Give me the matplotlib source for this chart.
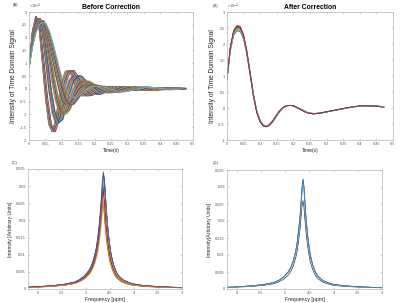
import numpy as np
import matplotlib
matplotlib.use("Agg")
import matplotlib.pyplot as plt

plt.rcParams['font.family'] = ['Liberation Sans', 'DejaVu Sans']

matlab_colors = ['#0072BD', '#D95319', '#EDB120', '#7E2F8E', '#77AC30', '#4DBEEE', '#A2142F']

# ---------------- time-domain data (x 1e-4) ----------------
time_s = [0.00, 0.01, 0.02, 0.03, 0.04, 0.05, 0.06, 0.07, 0.08, 0.09, 0.10,
          0.11, 0.12, 0.13, 0.14, 0.15, 0.16, 0.17, 0.18, 0.19, 0.20,
          0.22, 0.24, 0.26, 0.28, 0.30, 0.32, 0.34, 0.36, 0.38, 0.40,
          0.42, 0.44, 0.46, 0.47]

# "Before correction" representative curves (fast -> slow)
fid_before_1 = [0.90, 2.25, 2.82, 2.40, 1.05, -0.40, -1.40, -1.68, -1.25, -0.45, 0.30,
                0.68, 0.72, 0.50, 0.15, -0.15, -0.28, -0.25, -0.10, 0.04, 0.11,
                0.04, -0.09, -0.08, 0.02, 0.06, 0.01, -0.04, -0.03, 0.01, 0.03,
                0.01, -0.01, 0.00, 0.01]
fid_before_2 = [0.88, 2.05, 2.68, 2.75, 2.15, 1.05, -0.10, -0.95, -1.33, -1.20, -0.70,
                -0.10, 0.32, 0.50, 0.50, 0.35, 0.12, -0.08, -0.20, -0.22, -0.16,
                0.02, 0.10, 0.03, -0.06, -0.07, -0.01, 0.04, 0.04, 0.00, -0.02,
                -0.01, 0.01, 0.01, 0.01]
fid_before_3 = [0.85, 1.90, 2.50, 2.72, 2.55, 1.95, 1.10, 0.25, -0.45, -0.88, -0.98,
                -0.80, -0.45, -0.08, 0.18, 0.29, 0.30, 0.23, 0.10, -0.03, -0.12,
                -0.16, -0.06, 0.06, 0.09, 0.04, -0.03, -0.06, -0.03, 0.02, 0.04,
                0.03, 0.00, -0.01, 0.00]
fid_before_4 = [0.82, 1.75, 2.35, 2.62, 2.65, 2.35, 1.85, 1.20, 0.55, -0.02, -0.45,
                -0.63, -0.60, -0.42, -0.20, 0.00, 0.12, 0.16, 0.15, 0.12, 0.06,
                -0.07, -0.13, -0.10, -0.02, 0.05, 0.07, 0.04, -0.01, -0.04, -0.02,
                0.01, 0.02, 0.01, 0.01]
fid_before_5 = [0.78, 1.60, 2.18, 2.50, 2.60, 2.55, 2.25, 1.80, 1.28, 0.75, 0.28,
                -0.08, -0.28, -0.35, -0.32, -0.22, -0.10, 0.00, 0.07, 0.10, 0.10,
                0.07, -0.02, -0.10, -0.12, -0.07, 0.00, 0.05, 0.06, 0.03, -0.01,
                -0.02, -0.01, 0.01, 0.02]
before_curves = [fid_before_1, fid_before_2, fid_before_3, fid_before_4, fid_before_5]
# time stretch of each drawn line around its representative curve
stretch_steps = [1.00, 1.015, 1.03, 1.045, 1.06, 1.075, 1.09, 1.105, 1.12, 1.135, 1.15]
before_stretch = [stretch_steps, stretch_steps, stretch_steps, stretch_steps,
                  [1.00, 1.015, 1.03, 1.045]]

# "After correction" curve
fid_after = [0.90, 1.85, 2.35, 2.50, 2.47, 2.22, 1.72, 1.05, 0.38, -0.13, -0.42,
             -0.55, -0.57, -0.51, -0.38, -0.22, -0.08, 0.02, 0.07, 0.08, 0.07,
             -0.03, -0.14, -0.18, -0.16, -0.12, -0.08, -0.04, 0.00, 0.035, 0.06,
             0.07, 0.065, 0.05, 0.03]
after_gain = [0.965, 0.975, 0.985, 0.995, 1.0, 1.005, 1.015, 1.025, 1.035, 0.99, 1.01, 1.0, 0.98, 1.02]
after_stretch = [1.01, 0.995, 1.005, 0.99, 1.0, 1.008, 0.998, 1.004, 0.996, 1.0, 1.002, 1.0, 1.006, 0.994]

# ---------------- spectra ----------------
ppm_offset = [1.60, 1.40, 1.20, 1.00, 0.80, 0.60, 0.50, 0.40, 0.30, 0.25, 0.20, 0.15, 0.12,
              0.09, 0.06, 0.04, 0.02, 0.00, -0.02, -0.04, -0.06, -0.09, -0.12, -0.15,
              -0.20, -0.25, -0.30, -0.40, -0.50, -0.60, -0.80, -1.00, -1.20, -1.40, -1.65]
peak_profile = [0.015, 0.020, 0.025, 0.032, 0.042, 0.060, 0.080, 0.110, 0.160, 0.200, 0.260,
                0.350, 0.430, 0.540, 0.680, 0.800, 0.930, 1.000, 0.930, 0.790, 0.660, 0.510,
                0.400, 0.310, 0.220, 0.160, 0.120, 0.080, 0.060, 0.045, 0.032, 0.025,
                0.020, 0.016, 0.013]
peak_center_ppm = 4.63
before_shift = [-0.018, 0.015, -0.010, 0.006, 0.018, -0.015, 0.000, 0.011, -0.005,
                0.013, -0.012, 0.003, -0.007, 0.009, -0.002, 0.016, -0.016, 0.005]
before_height = [0.0300, 0.0280, 0.0320, 0.0290, 0.0260, 0.0310, 0.0335, 0.0295, 0.0325,
                 0.0270, 0.0305, 0.0330, 0.0315, 0.0285, 0.0338, 0.0250, 0.0275, 0.0342]
after_shift = [0.003, -0.003, 0.002, -0.002, 0.000, 0.002, -0.002, 0.001, -0.001, 0.000]
after_height = [0.0310, 0.0315, 0.0260, 0.0318, 0.0312, 0.0320, 0.0316, 0.0322, 0.0319, 0.0324]


def style(ax):
    for sp in ax.spines.values():
        sp.set_color('#B4B4B4')
        sp.set_linewidth(0.5)
    ax.tick_params(direction='in', length=1.6, width=0.4, color='#B4B4B4',
                   labelcolor='#555555', labelsize=2.8, pad=1.5,
                   top=True, right=True)


fig = plt.figure(figsize=(4.0, 3.03), dpi=100)

def add_axes(l, t, r, b):
    W, H = 400.0, 303.0
    return fig.add_axes([l / W, 1 - b / H, (r - l) / W, (b - t) / H])

axA = add_axes(29, 12, 193, 140)
axB = add_axes(227, 12, 393, 140)
axC = add_axes(28, 169, 182, 289)
axD = add_axes(227, 170, 382, 289)

t = np.array(time_s)
k = 0
for curve, stretches in zip(before_curves, before_stretch):
    y = np.array(curve)
    for s in stretches:
        x = t * s
        m = x <= 0.48
        axA.plot(x[m], y[m], color=matlab_colors[k % 7], lw=0.55)
        k += 1

ya = np.array(fid_after)
for i, (g, s) in enumerate(zip(after_gain, after_stretch)):
    axB.plot(t * s, ya * g, color=matlab_colors[i % 7], lw=0.55)

off = np.array(ppm_offset)
prof = np.array(peak_profile)
for i, (sh, h) in enumerate(zip(before_shift, before_height)):
    axC.plot(peak_center_ppm + sh + off, prof * h, color=matlab_colors[i % 7], lw=0.45)
for i, (sh, h) in enumerate(zip(after_shift, after_height)):
    col = '#7FB2D4'
    if i == len(after_shift) - 1:
        col = '#2F5F8F'
    if i == 2:
        col = '#222222'
    axD.plot(peak_center_ppm + sh + off, prof * h, color=col, lw=0.45)

time_ticks = [0, 0.05, 0.1, 0.15, 0.2, 0.25, 0.3, 0.35, 0.4, 0.45, 0.5]
time_tick_labels = ['0', '0.05', '0.1', '0.15', '0.2', '0.25', '0.3', '0.35', '0.4', '0.45', '0.5']
a_yticks = [-2, -1.5, -1, -0.5, 0, 0.5, 1, 1.5, 2, 2.5, 3]
b_yticks = [-1, -0.5, 0, 0.5, 1, 1.5, 2, 2.5, 3]
ppm_ticks = [6, 5.5, 5, 4.5, 4, 3.5, 3]
spec_yticks = [0, 0.005, 0.01, 0.015, 0.02, 0.025, 0.03, 0.035]

for ax, yt, ylim in [(axA, a_yticks, (-2, 3)), (axB, b_yticks, (-1, 3))]:
    ax.set_xlim(0, 0.5)
    ax.set_ylim(*ylim)
    ax.set_xticks(time_ticks)
    ax.set_xticklabels(time_tick_labels)
    ax.set_yticks(yt)
    ax.set_yticklabels([('%g' % v) for v in yt])
    style(ax)
    ax.text(0.0, 1.005, '×10$^{-4}$', transform=ax.transAxes, fontsize=2.8,
            color='#555555', ha='left', va='bottom')
    ax.set_xlabel('Time(s)', fontsize=3.6, labelpad=1.5, color='#222222')
    ax.set_ylabel('Intensity of Time Domain Signal', fontsize=4.8, labelpad=2, color='#222222')

for ax in (axC, axD):
    ax.set_xlim(6.2, 3.0)
    ax.set_ylim(0, 0.035)
    ax.set_xticks(ppm_ticks)
    ax.set_xticklabels([('%g' % v) for v in ppm_ticks])
    ax.set_yticks(spec_yticks)
    ax.set_yticklabels([('%g' % v) for v in spec_yticks])
    style(ax)
    ax.set_xlabel('Frequency [ppm]', fontsize=3.8, labelpad=1.5, color='#222222')

axC.set_ylabel('Intensity [Arbitrary Units]', fontsize=3.6, labelpad=2, color='#222222')
axD.set_ylabel('Intensity[Arbitrary Units]', fontsize=3.6, labelpad=2, color='#222222')

axA.set_title('Before Correction', fontsize=4.9, fontweight='bold', pad=2.5)
axB.set_title('After Correction', fontsize=4.9, fontweight='bold', pad=2.5)

for txt, x, y in [('(A)', 13, 5), ('(B)', 213, 6), ('(C)', 12, 163), ('(D)', 213, 163)]:
    fig.text(x / 400.0, 1 - y / 303.0, txt, fontsize=3.0, color='#333333', va='center')

fig.savefig('out.png', dpi=100)
